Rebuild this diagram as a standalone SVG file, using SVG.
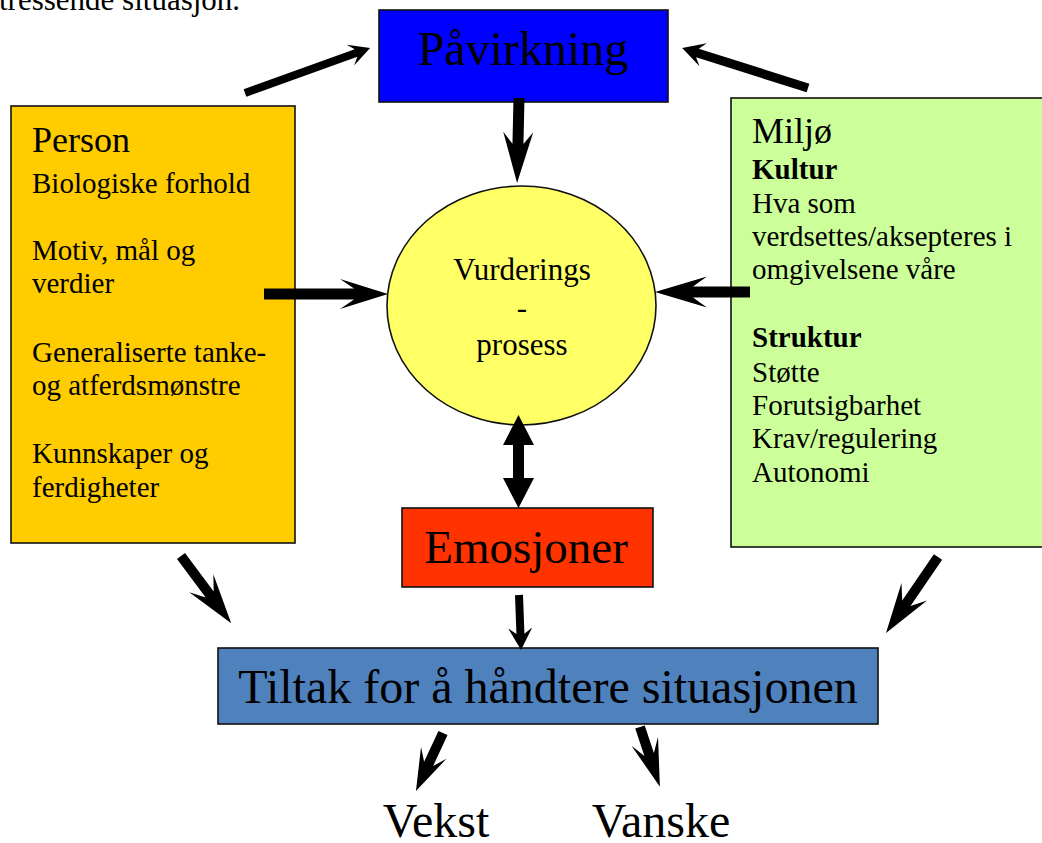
<svg xmlns="http://www.w3.org/2000/svg" width="1042" height="843" viewBox="0 0 1042 843">
<style>
text{font-family:"Liberation Serif","Times New Roman",serif;fill:#000}
.box{stroke:#111;stroke-width:1.6}
.b{font-size:29px}
.bb{font-size:29px;font-weight:bold}
.big{font-size:48px}
.ar{fill:#000}
</style>
<rect width="1042" height="843" fill="#fff"/>
<text x="-1" y="10" style="font-size:31px">tressende situasjon.</text>

<g id="pavirkning">
<rect class="box" x="379" y="10" width="289" height="92" fill="#0000FF"/>
<text class="big" x="523" y="65" text-anchor="middle">Påvirkning</text>
</g>

<g id="person">
<rect class="box" x="11" y="106" width="284" height="437" fill="#FFCC00"/>
<text x="32" y="152" style="font-size:36px">Person</text>
<text class="b" x="32" y="193">Biologiske forhold</text>
<text class="b" x="32" y="260">Motiv, mål og</text>
<text class="b" x="32" y="293">verdier</text>
<text class="b" x="32" y="362">Generaliserte tanke-</text>
<text class="b" x="32" y="395">og atferdsmønstre</text>
<text class="b" x="32" y="463">Kunnskaper og</text>
<text class="b" x="32" y="497">ferdigheter</text>
</g>

<g id="miljo">
<rect class="box" x="731" y="98" width="320" height="449" fill="#CCFF99"/>
<text x="752" y="143" style="font-size:36px">Miljø</text>
<text class="bb" x="752" y="179">Kultur</text>
<text class="b" x="752" y="213">Hva som</text>
<text class="b" x="752" y="246">verdsettes/aksepteres i</text>
<text class="b" x="752" y="279">omgivelsene våre</text>
<text class="bb" x="752" y="347">Struktur</text>
<text class="b" x="752" y="382">Støtte</text>
<text class="b" x="752" y="415">Forutsigbarhet</text>
<text class="b" x="752" y="448">Krav/regulering</text>
<text class="b" x="752" y="482">Autonomi</text>
</g>

<g id="vurdering">
<ellipse class="box" cx="521.5" cy="305.5" rx="134.5" ry="119.5" fill="#FFFF66"/>
<text x="522" y="280" text-anchor="middle" style="font-size:31px">Vurderings</text>
<text x="522" y="318" text-anchor="middle" style="font-size:31px">-</text>
<text x="522" y="355" text-anchor="middle" style="font-size:31px">prosess</text>
</g>

<g id="emosjoner">
<rect class="box" x="402" y="508" width="251" height="79" fill="#FF3300"/>
<text x="526" y="563" text-anchor="middle" style="font-size:47px">Emosjoner</text>
</g>

<g id="tiltak">
<rect class="box" x="218" y="648" width="660" height="76" fill="#4F81BD"/>
<text class="big" x="548" y="703" text-anchor="middle">Tiltak for å håndtere situasjonen</text>
</g>

<g id="vekst"><text x="436" y="837" text-anchor="middle" style="font-size:48px">Vekst</text></g>
<g id="vanske"><text x="661" y="837" text-anchor="middle" style="font-size:48px">Vanske</text></g>

<g id="connectors" class="ar">
<polygon transform="translate(245,93) rotate(-19.8)" points="0,-4 118,-4 112,-11 133,0 112,11 118,4 0,4"/>
<polygon transform="translate(808,88) rotate(-162.4)" points="0,-4.5 116,-4.5 110,-12 132,0 110,12 116,4.5 0,4.5"/>
<polygon transform="translate(519,98) rotate(91.3)" points="0,-5.5 46,-5.5 34,-15 85,0 34,15 46,5.5 0,5.5"/>
<polygon transform="translate(264,294)" points="0,-5.5 90,-5.5 76,-15 124,0 76,15 90,5.5 0,5.5"/>
<polygon transform="translate(750,292) rotate(180)" points="0,-5.5 57,-5.5 43,-15.5 95,0 43,15.5 57,5.5 0,5.5"/>
<polygon points="518.5,415 534,445 524,445 524,478 534,478 518.5,508 503,478 513,478 513,445 503,445"/>
<polygon transform="translate(519,595) rotate(87.9)" points="0,-4 39,-4 33,-12 55,0 33,12 39,4 0,4"/>
<polygon transform="translate(181,556) rotate(53.3)" points="0,-5 48,-5 34,-15 84,0 34,15 48,5 0,5"/>
<polygon transform="translate(938,557) rotate(124.4)" points="0,-5 56,-5 42,-15.5 92,0 42,15.5 56,5 0,5"/>
<polygon transform="translate(443,733) rotate(115)" points="0,-5 34,-5 22,-14 64,0 22,14 34,5 0,5"/>
<polygon transform="translate(640,727) rotate(71.6)" points="0,-5 29,-5 15,-14 63,0 15,14 29,5 0,5"/>
</g>
</svg>
